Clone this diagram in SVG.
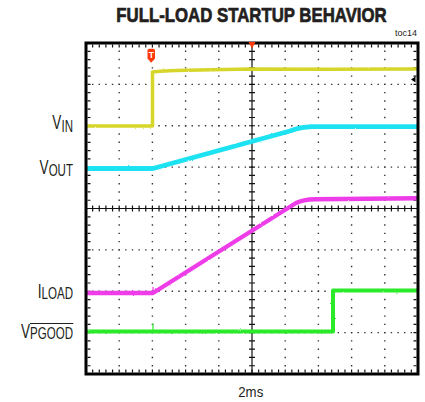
<svg xmlns="http://www.w3.org/2000/svg" width="425" height="402" viewBox="0 0 425 402">
  <style>
    .lbl { font-family: "Liberation Sans", Arial, sans-serif; fill: #231f20; }
    .dotH { stroke: #333; stroke-width: 1.4; stroke-dasharray: 1.4 5.24; stroke-dashoffset: 0.7; fill: none; }
    .dotV { stroke: #333; stroke-width: 1.4; stroke-dasharray: 1.4 6.875; stroke-dashoffset: 0.7; fill: none; }
    .tickH { stroke: #111; stroke-width: 6; stroke-dasharray: 1.2 5.44; stroke-dashoffset: 0.6; fill: none; }
    .tickV { stroke: #111; stroke-width: 6; stroke-dasharray: 1.2 7.075; stroke-dashoffset: 0.6; fill: none; }
    .btickH { stroke: #111; stroke-width: 3; stroke-dasharray: 1.2 5.44; stroke-dashoffset: 0.6; fill: none; }
    .btickV { stroke: #111; stroke-width: 3; stroke-dasharray: 1.2 7.075; stroke-dashoffset: 0.6; fill: none; }
    .axis { stroke: #111; stroke-width: 1.2; fill: none; }
    .trace { fill: none; stroke-linejoin: round; stroke-linecap: butt; }
  </style>
  <defs>
    <filter id="noise" x="-5%" y="-5%" width="110%" height="110%">
      <feTurbulence type="fractalNoise" baseFrequency="0.6" numOctaves="1" seed="3" result="n"/>
      <feDisplacementMap in="SourceGraphic" in2="n" scale="2" xChannelSelector="R" yChannelSelector="G"/>
    </filter>
  </defs>

  <rect width="425" height="402" fill="#ffffff"/>

  <g id="title">
    <g transform="scale(0.84,1)">
      <text class="lbl" x="299.4" y="21.7" font-size="20" font-weight="bold" text-anchor="middle" stroke="#231f20" stroke-width="0.7">FULL-LOAD STARTUP BEHAVIOR</text>
    </g>
    <text class="lbl" x="417" y="36.3" font-size="9" text-anchor="end">toc14</text>
  </g>

  <g id="grid">
    <line class="dotV" x1="119.2" y1="43" x2="119.2" y2="374"/>
    <line class="dotV" x1="152.4" y1="43" x2="152.4" y2="374"/>
    <line class="dotV" x1="185.6" y1="43" x2="185.6" y2="374"/>
    <line class="dotV" x1="218.8" y1="43" x2="218.8" y2="374"/>
    <line class="dotV" x1="285.2" y1="43" x2="285.2" y2="374"/>
    <line class="dotV" x1="318.4" y1="43" x2="318.4" y2="374"/>
    <line class="dotV" x1="351.6" y1="43" x2="351.6" y2="374"/>
    <line class="dotV" x1="384.8" y1="43" x2="384.8" y2="374"/>
    <line class="dotH" x1="86" y1="84.375" x2="418" y2="84.375"/>
    <line class="dotH" x1="86" y1="125.75" x2="418" y2="125.75"/>
    <line class="dotH" x1="86" y1="167.125" x2="418" y2="167.125"/>
    <line class="dotH" x1="86" y1="249.875" x2="418" y2="249.875"/>
    <line class="dotH" x1="86" y1="291.25" x2="418" y2="291.25"/>
    <line class="dotH" x1="86" y1="332.625" x2="418" y2="332.625"/>
    <line class="axis" x1="86" y1="208.5" x2="418" y2="208.5"/>
    <line class="tickH" x1="86" y1="208.5" x2="418" y2="208.5"/>
    <line class="axis" x1="252" y1="43" x2="252" y2="374"/>
    <line class="tickV" x1="252" y1="43" x2="252" y2="374"/>
    <line class="btickH" x1="86" y1="46" x2="418" y2="46"/>
    <line class="btickH" x1="86" y1="371" x2="418" y2="371"/>
    <line class="btickV" x1="89" y1="43" x2="89" y2="374"/>
    <line class="btickV" x1="415" y1="43" x2="415" y2="374"/>
  </g>

  <g id="traces">
    <g filter="url(#noise)">
      <path id="vin" class="trace" stroke="#d6d62a" stroke-width="3.5" d="M86,126 H152.5 V72 L160,71.2 L175,70.6 L200,70 L250,69 L330,69.2 L417,69"/>
      <path id="vout" class="trace" stroke="#1fe2f2" stroke-width="4.8" d="M86,168.5 H153 L290,131 Q300,127 312,126.6 H417"/>
      <path id="iload" class="trace" stroke="#ee3ce8" stroke-width="4.4" d="M86,293 H153 L296,203 Q303,199.5 315,199.2 L417,198.2"/>
      <path id="vpgood" class="trace" stroke="#2aea2a" stroke-width="4" d="M86,331.5 H333 V290.6 H417"/>
    </g>
    <path class="trace" stroke="#ee3ce8" stroke-width="1.2" d="M153,293 V287"/>
    <path class="trace" stroke="#2aea2a" stroke-width="1.2" d="M153,331 V323.5"/>
  </g>

  <g id="frame">
    <rect x="86" y="43" width="332" height="331" fill="none" stroke="#000" stroke-width="3"/>
  </g>

  <g id="markers">
    <path id="trigger" d="M147.5,50.5 Q147.5,48.7 149.3,48.7 H153.2 Q155,48.7 155,50.5 V58.5 L151.25,62.7 L147.5,58.5 Z" fill="#ff3a0a"/>
    <text class="lbl" x="151.25" y="58.2" font-size="8.5" font-weight="bold" text-anchor="middle" style="fill:#ffffff">T</text>
    <path id="timeref" d="M248.5,42 H255.5 L252,48.5 Z" fill="#ff3a0a"/>
    <path id="levelref" d="M411,79.5 L415.5,76.5 L415.5,82.5 Z" fill="#000"/>
  </g>

  <g id="labels">
    <g transform="translate(73,0) scale(0.68,1)">
      <text class="lbl" x="0" y="129.5" text-anchor="end"><tspan font-size="20">V</tspan><tspan font-size="17" dy="2.2">IN</tspan></text>
      <text class="lbl" x="0" y="174" text-anchor="end"><tspan font-size="20">V</tspan><tspan font-size="17" dy="2">OUT</tspan></text>
      <text class="lbl" x="0" y="298" text-anchor="end"><tspan font-size="20">I</tspan><tspan font-size="17" dy="1.5">LOAD</tspan></text>
      <text class="lbl" x="0" y="338" text-anchor="end"><tspan font-size="20">V</tspan><tspan font-size="17" dy="1.5">PGOOD</tspan></text>
    </g>
    <line x1="30" y1="323.5" x2="73.3" y2="323.5" stroke="#231f20" stroke-width="1.2"/>
    <g transform="scale(0.883,1)">
      <text class="lbl" x="284" y="397.3" font-size="15" text-anchor="middle">2ms</text>
    </g>
  </g>
</svg>
